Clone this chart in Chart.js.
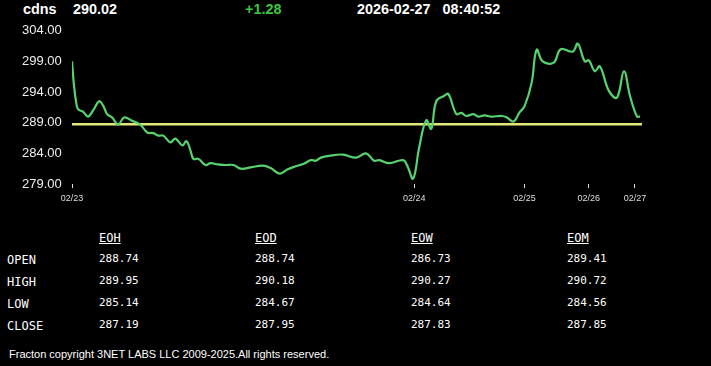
<!DOCTYPE html>
<html>
<head>
    <title>cdns intraday</title>
    <script src="https://cdn.jsdelivr.net/npm/chart.js@4"></script>
</head>

<style>
    body {
        margin: 0;
        background: #000;
        color: #fff;
        width: 711px;
        height: 366px;
        position: relative;
        overflow: hidden;
        font-family: 'Liberation Sans', Arial, sans-serif;
    }

    .hdr {
        position: absolute;
        top: 1px;
        font-size: 14.4px;
        font-weight: bold;
        white-space: pre;
    }

    .chart-container {
        position: absolute;
        left: 0;
        top: 20px;
        width: 711px;
        height: 190px;
    }

    .cell {
        position: absolute;
        font-family: 'DejaVu Sans Mono', monospace;
        white-space: pre;
    }

    #footer {
        position: absolute;
        left: 9px;
        top: 348px;
        font-size: 11px;
    }
</style>

<body>
    <div class="hdr" style="left:23px">cdns</div>
    <div class="hdr" style="left:73px">290.02</div>
    <div class="hdr" style="left:245px; color:#3fc43f">+1.28</div>
    <div class="hdr" style="left:357px">2026-02-27   08:40:52</div>

    <div class="chart-container"><canvas id="myChart"></canvas></div>

    <div id="table"></div>
    <div id="footer">Fracton copyright 3NET LABS LLC 2009-2025.All rights reserved.</div>

    <script>

// données
    const sampleIdx = [0, 2, 4, 6, 11, 16, 21, 27, 31, 35, 40, 46, 52, 60, 68, 75, 81, 86, 91, 98,
        103, 110, 114, 118, 121, 126, 133, 138, 145, 153, 161, 168, 178, 190, 198, 207, 215, 221, 231, 238,
        243, 248, 256, 270, 283, 293, 301, 306, 316, 330, 334, 340, 346, 353, 358, 363, 371, 375, 383, 388,
        393, 400, 405, 411, 418, 428, 433, 440, 446, 451, 458, 463, 469, 480, 487, 499, 504, 511, 515, 521,
        526, 535, 543, 550, 556, 563, 566];
    const prices = [299.0, 295.0, 292.5, 291.2, 290.8, 290.0, 291.0, 292.5, 291.8, 290.4, 289.85, 288.7, 289.85, 289.3, 288.7, 287.4, 287.3, 286.9, 286.9, 285.8,
        286.4, 285.3, 286.0, 284.5, 283.1, 283.1, 282.1, 282.4, 282.2, 282.1, 282.1, 281.5, 281.7, 282.0, 281.6, 280.7, 281.4, 281.8, 282.3, 282.9,
        282.8, 283.3, 283.6, 283.8, 283.3, 284.0, 282.8, 282.9, 282.4, 282.9, 282.0, 279.9, 285.0, 289.4, 288.0, 292.5, 293.4, 293.7, 290.4, 290.6,
        290.1, 290.4, 290.0, 290.2, 290.0, 290.1, 289.9, 289.2, 290.7, 291.7, 295.5, 300.9, 299.0, 298.8, 301.0, 300.6, 301.9, 299.0, 299.2, 297.4,
        298.2, 294.2, 293.1, 297.4, 293.4, 290.0, 290.02];
    const prevClose = 288.74;

    const dayTickIdx = [0, 341, 451, 515, 561];
    const dayLabels = ['02/23', '02/24', '02/25', '02/26', '02/27'];

    const yMin = 279, yMax = 304, yStep = 5;

// tableau OHLC
    const colNames = ['EOH', 'EOD', 'EOW', 'EOM'];
    const rowNames = ['OPEN', 'HIGH', 'LOW', 'CLOSE'];
    const openVals = ['288.74', '288.74', '286.73', '289.41'];
    const highVals = ['289.95', '290.18', '290.27', '290.72'];
    const lowVals = ['285.14', '284.67', '284.64', '284.56'];
    const closeVals = ['287.19', '287.95', '287.83', '287.85'];

    function buildTable() {
        const t = document.getElementById('table');
        const colX = [99, 255, 411, 567];
        const rowY = [252, 274, 296, 318];
        const rows = [openVals, highVals, lowVals, closeVals];
        colNames.forEach((c, i) => {
            const d = document.createElement('div');
            d.className = 'cell';
            d.style.cssText = 'left:' + colX[i] + 'px; top:231px; font-size:12px; text-decoration:underline;';
            d.textContent = c;
            t.appendChild(d);
        });
        rowNames.forEach((r, j) => {
            const d = document.createElement('div');
            d.className = 'cell';
            d.style.cssText = 'left:7px; top:' + (rowY[j] + 1) + 'px; font-size:12px;';
            d.textContent = r;
            t.appendChild(d);
            rows[j].forEach((v, i) => {
                const e = document.createElement('div');
                e.className = 'cell';
                e.style.cssText = 'left:' + colX[i] + 'px; top:' + rowY[j] + 'px; font-size:11px;';
                e.textContent = v;
                t.appendChild(e);
            });
        });
    }
    buildTable();

// tracé
    const ctx = document.getElementById('myChart').getContext('2d');
    const pricePts = sampleIdx.map((x, i) => ({ x: x, y: prices[i] }));
    const lastIdx = sampleIdx[sampleIdx.length - 1];

    new Chart(ctx, {
        type: 'line',
        data: {
            datasets: [{
                data: pricePts,
                borderColor: 'rgb(86, 210, 110)',
                borderWidth: 2.2,
                pointRadius: 0,
                tension: 0.4,
                fill: false
            }, {
                data: [{ x: 0, y: prevClose }, { x: lastIdx + 2, y: prevClose }],
                borderColor: 'rgb(226, 232, 120)',
                borderWidth: 2.4,
                pointRadius: 0,
                fill: false
            }]
        },
        options: {
            responsive: true,
            maintainAspectRatio: false,
            animation: false,
            layout: { padding: { left: 22, right: 69, top: 9, bottom: 0 } },
            plugins: { legend: { display: false }, tooltip: { enabled: false } },
            scales: {
                x: {
                    type: 'linear',
                    min: 0,
                    max: lastIdx + 2,
                    afterBuildTicks: s => { s.ticks = dayTickIdx.map(v => ({ value: v })); },
                    afterFit: s => { s.height = 26; },
                    ticks: {
                        autoSkip: false,
                        maxRotation: 0,
                        padding: 5,
                        color: '#ddd',
                        font: { family: 'Liberation Sans', size: 9 },
                        callback: v => dayLabels[dayTickIdx.indexOf(v)]
                    },
                    grid: { display: true, drawOnChartArea: false, tickLength: 4, color: '#ddd' },
                    border: { display: false }
                },
                y: {
                    min: yMin,
                    max: yMax,
                    afterFit: s => { s.width = 50; },
                    ticks: {
                        stepSize: yStep,
                        crossAlign: 'far',
                        color: '#eee',
                        font: { family: 'Liberation Sans', size: 13 },
                        callback: v => v.toFixed(2)
                    },
                    grid: { display: false },
                    border: { display: false }
                }
            }
        }
    });
    </script>
</body>
</html>
